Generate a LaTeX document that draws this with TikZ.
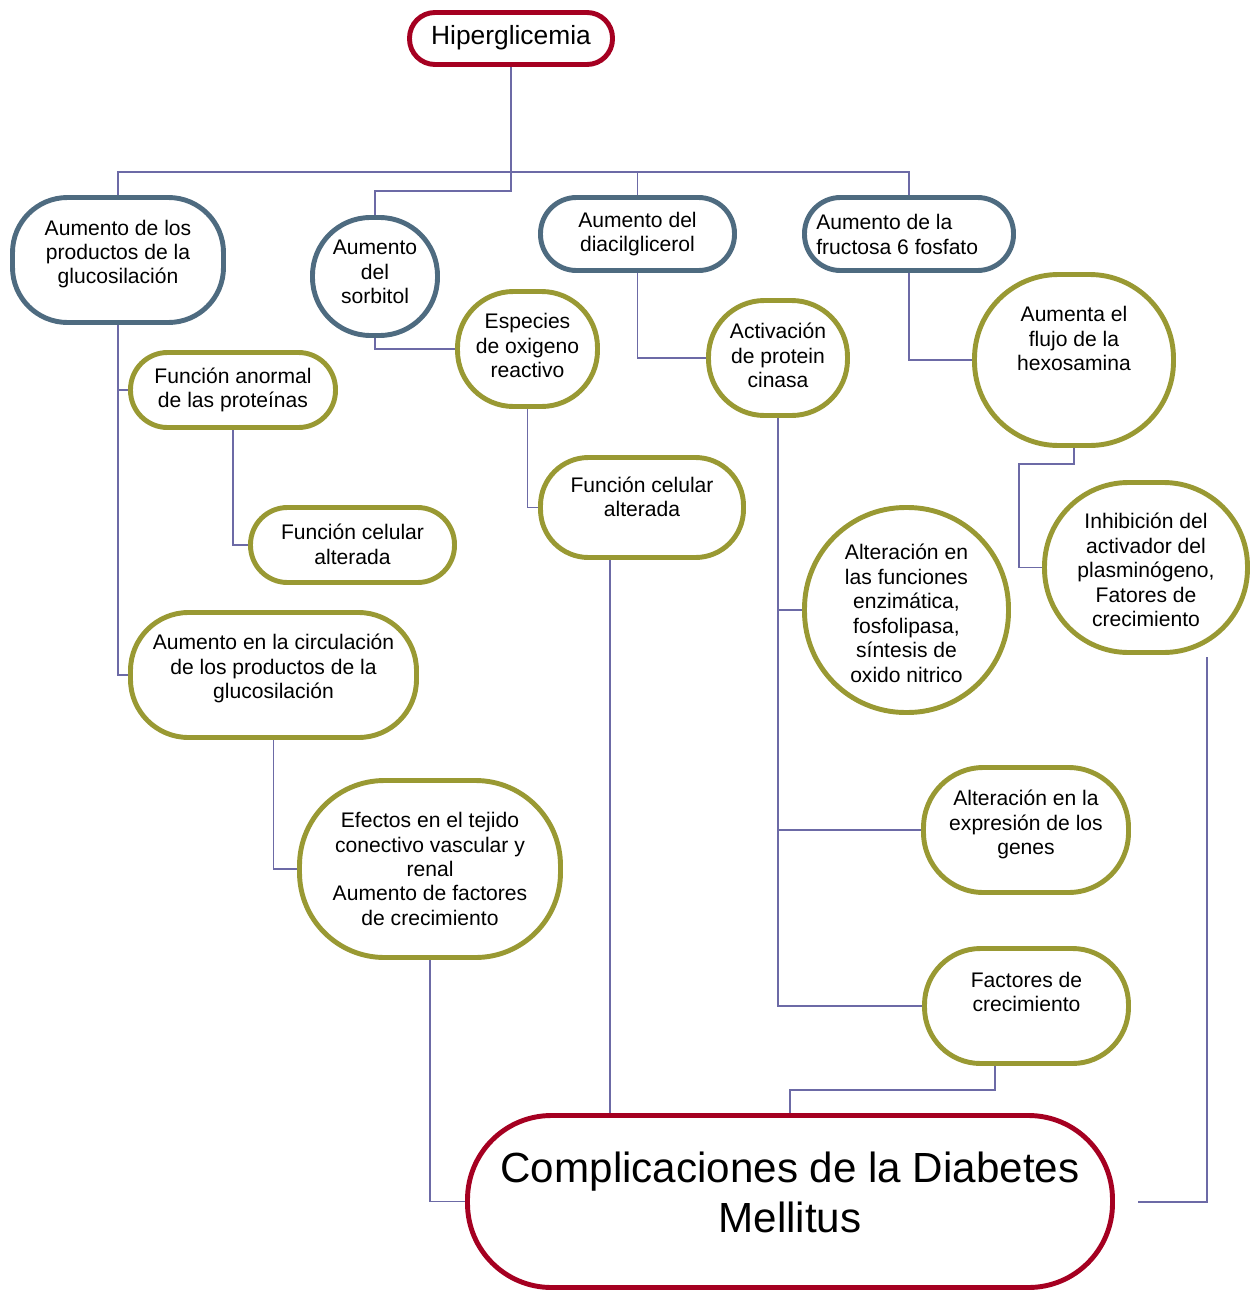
\documentclass[tikz,border=0pt]{standalone}
\usepackage{fontspec}
\setmainfont{Liberation Sans}
\usetikzlibrary{backgrounds}

\definecolor{rojoHip}{HTML}{A50021}
\definecolor{azulNivel}{HTML}{4E6B80}
\definecolor{olivaNivel}{HTML}{999933}
\definecolor{lineaLila}{HTML}{6C6AA6}

\tikzset{
  caja/.style n args={3}{rectangle, fill=white, line width=2.8pt, inner sep=0pt,
    minimum width=#1*0.02cm, minimum height=#2*0.02cm, rounded corners=#3*0.02cm},
  rojo/.style={draw=rojoHip},
  azul/.style={draw=azulNivel},
  oliva/.style={draw=olivaNivel},
  texto/.style={align=center, inner sep=0pt, font=\fontsize{12}{13.9}\selectfont},
  enlace/.style={draw=lineaLila, line width=1pt}
}

\begin{document}
\begin{tikzpicture}[x=0.02cm, y=-0.02cm]
\useasboundingbox (0,0) rectangle (1250,1291);

% top and bottom
\node[rojo, caja={203}{52}{25.5}] (hip) at (511,38.5) {};
\node[texto, font=\fontsize{15}{18}\selectfont] (hip-t) at (511,38) {Hiperglicemia};
\node[rojo, caja={645}{172}{84}] (com) at (790,1201.5) {};
\node[texto, font=\fontsize{24}{28.4}\selectfont] (com-t) at (790,1192) {Complicaciones de la Diabetes\\Mellitus};

% first level
\node[azul, caja={211}{125}{55}] (glu) at (118,260) {};
\node[texto] (glu-t) at (118,254) {Aumento de los\\productos de la\\glucosilación};
\node[azul, caja={125}{118}{58}] (sor) at (375,276.5) {};
\node[texto] (sor-t) at (375,272) {Aumento\\del\\sorbitol};
\node[azul, caja={194}{73}{36}] (dag) at (637.5,234) {};
\node[texto] (dag-t) at (637.5,234) {Aumento del\\diacilglicerol};
\node[azul, caja={209}{73}{36}] (fru) at (909,234) {};
\node[texto, align=left, anchor=west] (fru-t) at (816,234.5) {Aumento de la\\fructosa 6 fosfato};

% left branch
\node[oliva, caja={205}{75}{37}] (fan) at (233,390) {};
\node[texto] (fan-t) at (233,390) {Función anormal\\de las proteínas};
\node[oliva, caja={204}{75}{37}] (fca) at (352.5,545) {};
\node[texto] (fca-t) at (352.5,544.5) {Función celular\\alterada};
\node[oliva, caja={286}{125}{58}] (circ) at (273.5,675) {};
\node[texto] (circ-t) at (273.5,668.5) {Aumento en la circulación\\de los productos de la\\glucosilación};
\node[oliva, caja={261}{177}{85}] (efe) at (430,869) {};
\node[texto] (efe-t) at (430,869) {Efectos en el tejido\\conectivo vascular y\\renal\\Aumento de factores\\de crecimiento};

% middle branch
\node[oliva, caja={140}{115}{56}] (esp) at (527.5,349) {};
\node[texto] (esp-t) at (527.5,345.5) {Especies\\de oxigeno\\reactivo};
\node[oliva, caja={203}{100}{48}] (fcm) at (642,507.5) {};
\node[texto] (fcm-t) at (642,497) {Función celular\\alterada};
\node[oliva, caja={139}{115}{56}] (act) at (778,358) {};
\node[texto] (act-t) at (778,355.5) {Activación\\de protein\\cinasa};
\node[oliva, caja={204}{205}{101}] (enz) at (906.5,610) {};
\node[texto] (enz-t) at (906.5,613.3) {Alteración en\\las funciones\\enzimática,\\fosfolipasa,\\síntesis de\\oxido nitrico};
\node[oliva, caja={205}{125}{60}] (gen) at (1026,830) {};
\node[texto] (gen-t) at (1026,824.5) {Alteración en la\\expresión de los\\genes};
\node[oliva, caja={204}{115}{56}] (fac) at (1026.5,1006) {};
\node[texto] (fac-t) at (1026.5,992) {Factores de\\crecimiento};

% right branch
\node[oliva, caja={199}{171}{84}] (flu) at (1074,360) {};
\node[texto] (flu-t) at (1074,338.5) {Aumenta el\\flujo de la\\hexosamina};
\node[oliva, caja={203}{170}{84}] (inh) at (1146,567.5) {};
\node[texto] (inh-t) at (1146,570) {Inhibición del\\activador del\\plasminógeno,\\Fatores de\\crecimiento};

% connectors
\begin{scope}[on background layer]
\coordinate (bus) at (511,172);
\coordinate (sbus) at (511,191);
\coordinate (fcm-out) at (610,507);
\coordinate (fac-out) at (995,1006);
\coordinate (fac-bus) at (995,1090);
\coordinate (flu-bus) at (1019,464);
\coordinate (inh-out) at (1207,657);
\coordinate (inh-end) at (1138,1202);

\draw[enlace] (hip.south) -- (bus);
\draw[enlace] (glu.north) |- (fru.north |- bus) -- (fru.north);
\draw[enlace] (dag.north) -- (dag.north |- bus);
\draw[enlace] (bus) -- (sbus) -| (sor.north);

\draw[enlace] (glu.south) |- (circ.west);
\draw[enlace] (glu.south |- fan.west) -- (fan.west);
\draw[enlace] (fan.south) |- (fca.west);
\draw[enlace] (circ.south) |- (efe.west);
\draw[enlace] (efe.south) |- (com.west);

\draw[enlace] (sor.south) |- (esp.west);
\draw[enlace] (esp.south) |- (fcm.west);
\draw[enlace] (fcm-out) -- (fcm-out |- com.north);

\draw[enlace] (dag.south) |- (act.west);
\draw[enlace] (act.south) |- (fac.west);
\draw[enlace] (act.south |- enz.west) -- (enz.west);
\draw[enlace] (act.south |- gen.west) -- (gen.west);
\draw[enlace] (fac-out) -- (fac-bus) -| (com.north);

\draw[enlace] (fru.south) |- (flu.west);
\draw[enlace] (flu.south) |- (flu-bus) |- (inh.west);
\draw[enlace] (inh-out) |- (inh-end);
\end{scope}
\end{tikzpicture}
\end{document}
